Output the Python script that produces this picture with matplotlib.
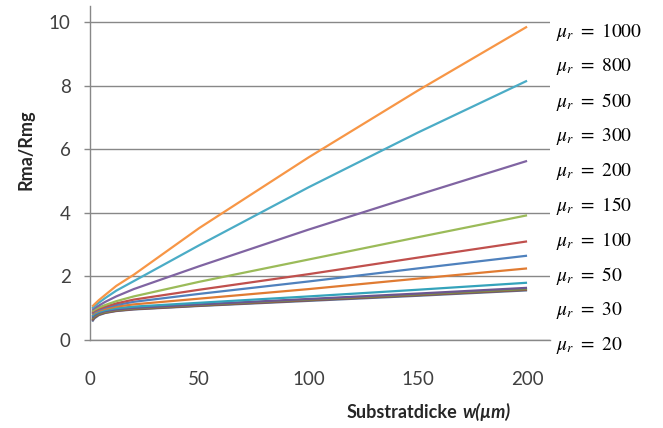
import matplotlib
matplotlib.use("Agg")
import matplotlib.pyplot as plt

plt.rcParams["mathtext.fontset"] = "stix"

# thickness w in um where values were read
w = [1, 2, 4, 7, 12, 20, 50, 100, 150, 200]

# Rma/Rmg per relative permeability
mu_1000 = [1.05, 1.12, 1.25, 1.42, 1.70, 2.05, 3.52, 5.74, 7.84, 9.85]
mu_800 = [1.00, 1.06, 1.17, 1.32, 1.55, 1.85, 2.98, 4.80, 6.52, 8.15]
mu_500 = [0.95, 1.00, 1.08, 1.20, 1.37, 1.60, 2.32, 3.47, 4.56, 5.63]
mu_300 = [0.90, 0.95, 1.02, 1.10, 1.22, 1.37, 1.83, 2.53, 3.23, 3.92]
mu_200 = [0.86, 0.92, 0.98, 1.05, 1.15, 1.27, 1.58, 2.07, 2.59, 3.10]
mu_150 = [0.83, 0.89, 0.95, 1.02, 1.10, 1.20, 1.45, 1.84, 2.25, 2.65]
mu_100 = [0.80, 0.86, 0.92, 0.98, 1.05, 1.12, 1.30, 1.60, 1.93, 2.25]
mu_50 = [0.75, 0.82, 0.88, 0.94, 1.00, 1.05, 1.17, 1.37, 1.58, 1.80]
mu_30 = [0.70, 0.78, 0.85, 0.91, 0.96, 1.01, 1.12, 1.29, 1.46, 1.64]
mu_20 = [0.66, 0.74, 0.82, 0.88, 0.94, 0.99, 1.10, 1.27, 1.43, 1.60]
# two more curves hidden in the bottom bundle (no label in the figure)
extra_a = [0.62, 0.71, 0.80, 0.86, 0.92, 0.97, 1.08, 1.25, 1.41, 1.58]
extra_b = [0.58, 0.68, 0.78, 0.85, 0.91, 0.96, 1.07, 1.23, 1.39, 1.56]

series = [extra_b, extra_a, mu_20, mu_30, mu_50, mu_100, mu_150, mu_200,
          mu_300, mu_500, mu_800, mu_1000]
colors = ["#5B6F93", "#8E4C4A", "#7F8D47", "#6C5690", "#34A3BB", "#E07B32",
          "#4F81BD", "#C0504D", "#9BBB59", "#8064A2", "#4BACC6", "#F79646"]

labels = ["1000", "800", "500", "300", "200", "150", "100", "50", "30", "20"]
x_ticks = [0, 50, 100, 150, 200]
y_ticks = [0, 2, 4, 6, 8, 10]

tick_color = "#404040"
grid_color = "#888888"

fig = plt.figure(figsize=(6.63, 4.28), dpi=100)
ax = fig.add_axes([90 / 663, 1 - 340 / 428, 460 / 663, 334 / 428])

for vals, c in zip(series, colors):
    ax.plot(w, vals, color=c, lw=1.6, solid_capstyle="butt")

ax.set_xlim(0, 210.5)
ax.set_ylim(0, 10.5)
ax.set_xticks(x_ticks)
ax.set_yticks(y_ticks)
ax.yaxis.grid(True, color=grid_color, lw=1)
ax.set_axisbelow(True)

for s in ["top", "right"]:
    ax.spines[s].set_visible(False)
for s in ["left", "bottom"]:
    ax.spines[s].set_color(grid_color)
    ax.spines[s].set_linewidth(1)

ax.tick_params(axis="x", length=0, pad=22, labelsize=13.5, labelcolor=tick_color)
ax.tick_params(axis="y", length=4, width=1, color=grid_color, pad=10,
               labelsize=13.5, labelcolor=tick_color)
for lab in ax.get_xticklabels() + ax.get_yticklabels():
    lab.set_fontfamily("Lato")

# axis titles
fig.text(26 / 663, 1 - 150 / 428, "Rma/Rmg", rotation=90, ha="center",
         va="center", fontsize=13, fontweight="bold", family="Lato",
         color="#262626")
fig.text(457 / 663, 1 - 412 / 428, "Substratdicke", ha="right", va="center",
         fontsize=13, fontweight="bold", family="Lato", color="#262626")
fig.text(462 / 663, 1 - 412 / 428, "w(µm)", ha="left", va="center",
         fontsize=13, fontweight="bold", style="italic", family="Lato",
         color="#262626")

# permeability labels on the right
for i, lab in enumerate(labels):
    y = 32 + i * 34.8
    fig.text(556 / 663, 1 - y / 428, r"$\mu_r\ =\ " + lab + "$", ha="left",
             va="center", fontsize=14, color="black")

fig.savefig("out.png", dpi=100)
